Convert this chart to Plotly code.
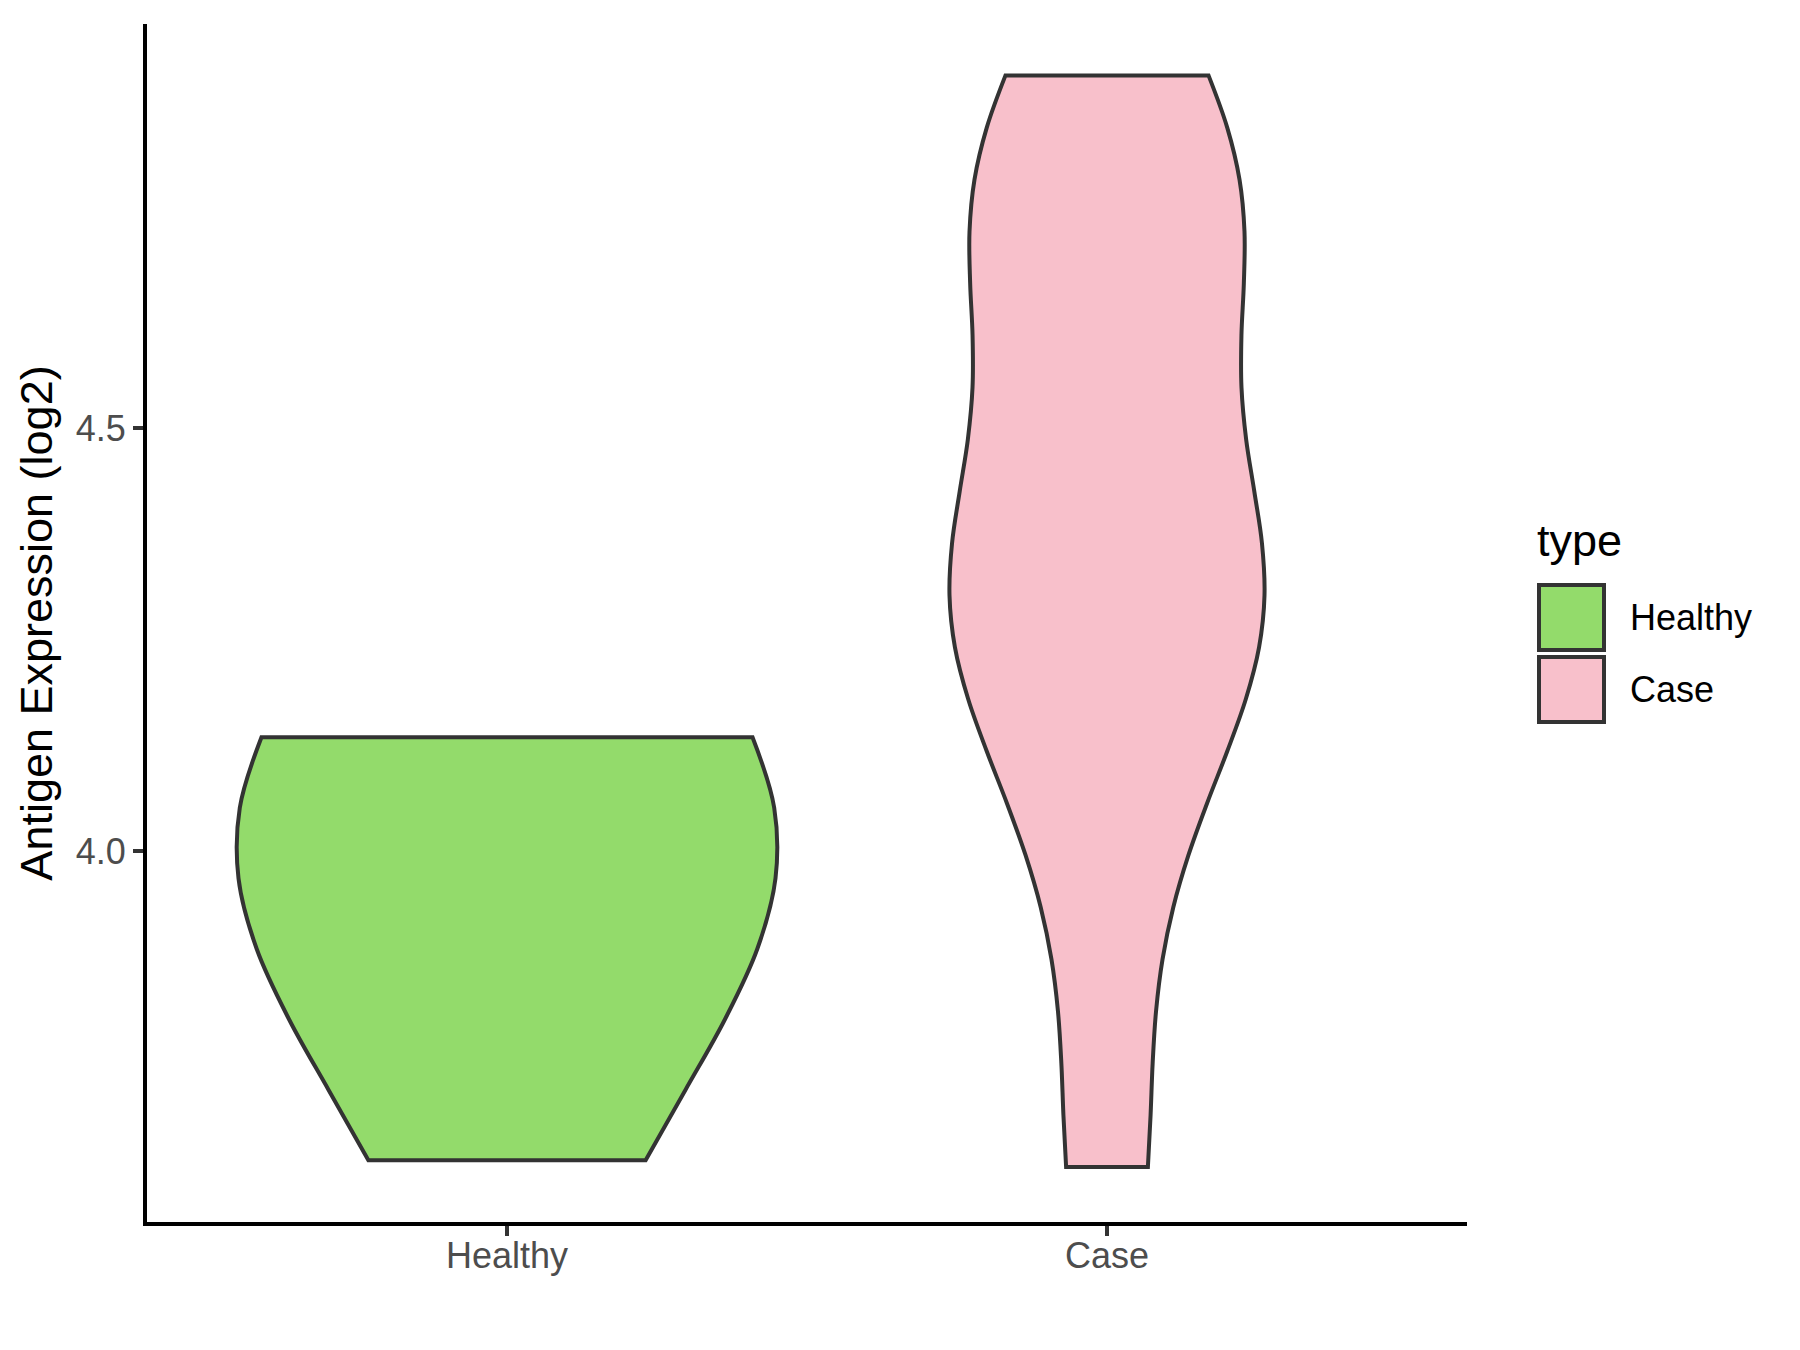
import plotly.graph_objects as go

# ---- data ----
categories = ["Healthy", "Case"]
healthy_values = [3.635, 3.985, 4.005, 4.020, 4.040, 4.135]
case_values = [3.627, 4.005, 4.211, 4.310, 4.330, 4.350, 4.660, 4.750, 4.775, 4.917]
bandwidths = [0.271, 0.187]
violin_widths = [0.895, 0.525]
fill_colors = ["#93DB6B", "#F8C0CB"]
y_tick_values = [4.0, 4.5]
y_tick_labels = ["4.0", "4.5"]
y_range = [3.562, 4.978]
legend_title = "type"
y_title = "Antigen Expression (log2)"

FONT = "Liberation Sans"
OUTLINE = "#333333"

series = [healthy_values, case_values]

fig = go.Figure()
for cat, vals, bw, w, col in zip(categories, series, bandwidths, violin_widths, fill_colors):
    fig.add_trace(go.Violin(
        x=[cat] * len(vals), y=vals, name=cat,
        fillcolor=col, opacity=1,
        line=dict(color=OUTLINE, width=4),
        points=False, box_visible=False, meanline_visible=False,
        spanmode="hard", bandwidth=bw, width=w, scalemode="width",
        showlegend=False, hoverinfo="skip",
    ))

# page body has an 8px margin, so margins are shifted accordingly
ML, MR, MT, MB = 139, 341, 16, 136
W, H = 1800, 1350
fig.update_layout(
    violinmode="overlay",
    width=W, height=H,
    margin=dict(l=ML, r=MR, t=MT, b=MB),
    plot_bgcolor="white", paper_bgcolor="white",
    font=dict(family=FONT),
    showlegend=False,
)
fig.update_xaxes(
    type="category", categoryorder="array", categoryarray=categories,
    range=[-0.6, 1.6],
    showline=True, linecolor="black", linewidth=4,
    ticks="outside", ticklen=10, tickwidth=4, tickcolor=OUTLINE,
    tickfont=dict(family=FONT, size=36, color="#4D4D4D"),
    ticklabelstandoff=-11,
    showgrid=False, zeroline=False,
)
fig.update_yaxes(
    range=y_range,
    tickvals=y_tick_values, ticktext=y_tick_labels,
    showline=True, linecolor="black", linewidth=4,
    ticks="outside", ticklen=10, tickwidth=4, tickcolor=OUTLINE,
    tickfont=dict(family=FONT, size=36, color="#4D4D4D"),
    showgrid=False, zeroline=False,
    title=dict(text=y_title, font=dict(family=FONT, size=45, color="black"), standoff=10),
)

# ---- legend drawn as keys + labels (positions in image pixels -> paper) ----
PW = W - ML - MR
PH = H - MT - MB
def px(xp):
    return (xp - (ML + 8)) / PW
def py(yp):
    return ((MT + 8 + PH) - yp) / PH

fig.add_annotation(text=legend_title, x=px(1535), y=py(540), xref="paper", yref="paper",
                   xanchor="left", yanchor="middle", showarrow=False,
                   font=dict(family=FONT, size=45, color="black"))
key_top = 585
key_size = 65
key_gap = 7
for i, (cat, col) in enumerate(zip(categories, fill_colors)):
    y0 = key_top + i * (key_size + key_gap)
    fig.add_shape(type="rect", xref="paper", yref="paper",
                  x0=px(1539), x1=px(1539 + key_size), y0=py(y0), y1=py(y0 + key_size),
                  fillcolor=col, line=dict(color=OUTLINE, width=4))
    fig.add_annotation(text=cat, x=px(1628), y=py(y0 + key_size / 2), xref="paper", yref="paper",
                       xanchor="left", yanchor="middle", showarrow=False,
                       font=dict(family=FONT, size=36, color="black"))

fig.write_html("out.html")
